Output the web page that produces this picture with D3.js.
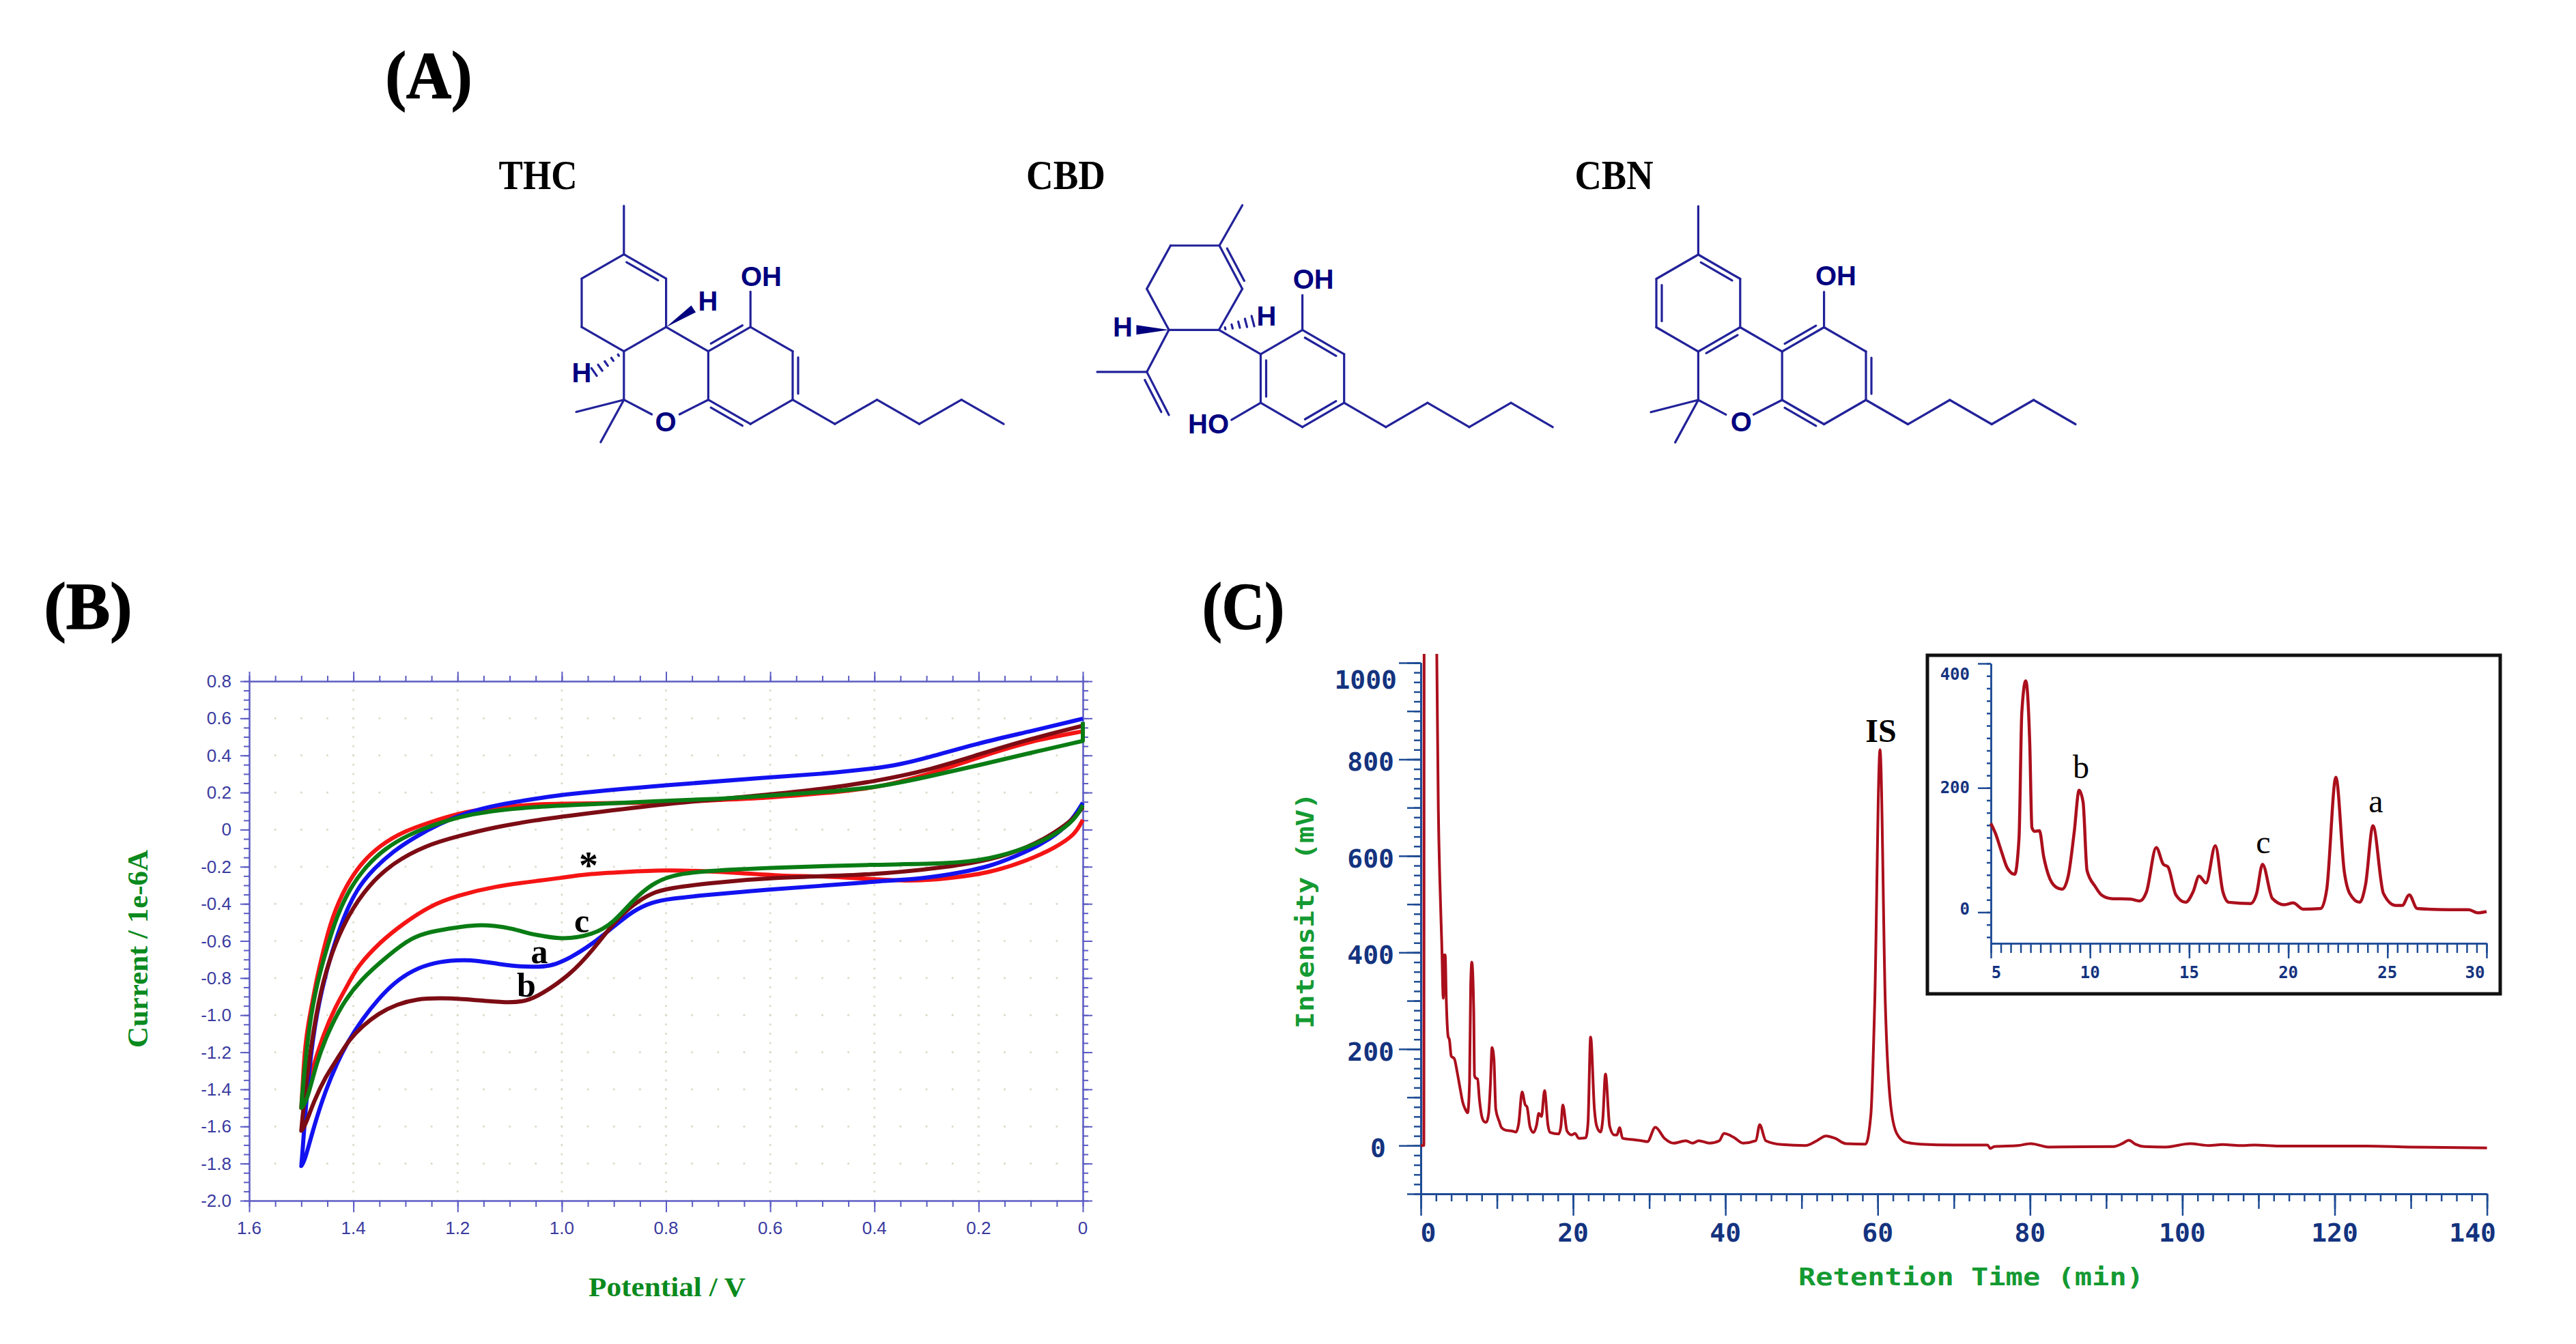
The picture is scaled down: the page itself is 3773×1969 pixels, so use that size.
<!DOCTYPE html>
<html>
<head>
<meta charset="utf-8">
<style>
  html, body { margin: 0; background: #fff; }
  svg { display: block; }
</style>
<script src="https://cdn.jsdelivr.net/npm/d3@7"></script>
</head>
<body>
<svg id="fig" width="3773" height="1969" viewBox="0 0 3773 1969"></svg>
<script>
// cyclic voltammograms: [potential V, current 1e-6 A], forward sweep then return
const redCV = [[0,.53],[.1,.478],[.2,.39],[.3,.294],[.35,.26],[.4,.225],[.5,.195],[.6,.172],[.7,.16],[.8,.145],[1,.14],[1.043,.139],[1.143,.115],[1.2,.087],[1.253,.04],[1.305,-.011],[1.349,-.085],[1.384,-.177],[1.414,-.3],[1.441,-.471],[1.458,-.655],[1.47,-.8],[1.478,-.92],[1.487,-1.05],[1.494,-1.2],[1.498,-1.415],[1.5,-1.5],
  [1.49,-1.4],[1.476,-1.267],[1.458,-1.108],[1.436,-.961],[1.406,-.813],[1.393,-.741],[1.349,-.606],[1.305,-.508],[1.253,-.41],[1.2,-.355],[1.13,-.306],[1.043,-.275],[1,-.26],[.955,-.24],[.88,-.228],[.8,-.218],[.73,-.223],[.655,-.234],[.58,-.25],[.5,-.25],[.43,-.262],[.33,-.28],[.255,-.262],[.18,-.234],[.105,-.166],[.053,-.097],[.015,-.028],[0,.053]];
const blueCV = [[0,.598],[.1,.53],[.2,.467],[.3,.386],[.35,.352],[.4,.329],[.5,.3],[.6,.283],[.8,.24],[1,.19],[1.043,.169],[1.121,.136],[1.182,.093],[1.235,.032],[1.283,-.042],[1.323,-.115],[1.362,-.213],[1.393,-.318],[1.419,-.471],[1.441,-.655],[1.46,-.85],[1.478,-1.108],[1.491,-1.476],[1.498,-1.75],[1.5,-1.813],
  [1.493,-1.783],[1.476,-1.6],[1.453,-1.402],[1.431,-1.255],[1.41,-1.139],[1.383,-1.022],[1.352,-.912],[1.322,-.826],[1.287,-.758],[1.244,-.715],[1.2,-.703],[1.165,-.704],[1.121,-.725],[1.077,-.74],[1.043,-.739],[1.02,-.735],[.985,-.694],[.94,-.614],[.9,-.522],[.865,-.441],[.827,-.39],[.79,-.372],[.73,-.354],[.6,-.322],[.5,-.303],[.4,-.28],[.3,-.262],[.24,-.234],[.18,-.2],[.128,-.143],[.075,-.074],[.03,.018],[.0075,.11],[0,.145]];
const brownCV = [[0,.56],[.1,.49],[.2,.405],[.3,.317],[.4,.26],[.5,.218],[.6,.19],[.7,.163],[.8,.14],[1,.07],[1.043,.054],[1.13,.013],[1.2,-.036],[1.261,-.085],[1.323,-.177],[1.371,-.299],[1.41,-.459],[1.441,-.655],[1.463,-.863],[1.482,-1.169],[1.497,-1.525],[1.5,-1.623],
  [1.493,-1.6],[1.476,-1.464],[1.453,-1.329],[1.431,-1.237],[1.41,-1.139],[1.383,-1.059],[1.352,-.991],[1.317,-.942],[1.278,-.912],[1.234,-.908],[1.191,-.912],[1.143,-.924],[1.099,-.933],[1.068,-.924],[1.042,-.893],[.985,-.786],[.94,-.648],[.9,-.5],[.865,-.407],[.827,-.338],[.79,-.315],[.73,-.292],[.6,-.257],[.4,-.246],[.255,-.2],[.18,-.166],[.105,-.097],[.053,-.016],[.015,.064],[0,.122]];
const greenCV = [[0,.58],[0,.478],[.1,.414],[.2,.347],[.3,.283],[.4,.225],[.5,.202],[.6,.184],[.7,.165],[.8,.156],[1,.13],[1.043,.124],[1.143,.1],[1.2,.066],[1.244,.028],[1.296,-.029],[1.34,-.103],[1.375,-.195],[1.406,-.312],[1.432,-.465],[1.454,-.667],[1.469,-.82],[1.485,-1.047],[1.498,-1.415],[1.5,-1.5],
  [1.489,-1.464],[1.471,-1.255],[1.449,-1.096],[1.423,-.948],[1.388,-.813],[1.331,-.672],[1.288,-.582],[1.253,-.55],[1.2,-.526],[1.165,-.514],[1.13,-.517],[1.095,-.533],[1.06,-.563],[1.043,-.569],[1,-.593],[.94,-.568],[.9,-.5],[.865,-.384],[.827,-.292],[.79,-.246],[.73,-.223],[.6,-.205],[.4,-.188],[.255,-.184],[.18,-.16],[.105,-.097],[.053,-.028],[.015,.053],[0,.133]];

const cvTraces = [
  { pts: redCV, color: "#f51414" },
  { pts: blueCV, color: "#1212f0" },
  { pts: brownCV, color: "#7c0c14" },
  { pts: greenCV, color: "#0a7c14" }
];

// full chromatogram: [min, mV]; the solvent front runs off the top of the plot
const chromPts = [[0,0],[.4,0],[.45,1300],[1.9,1300],[2.1,1017],[2.3,700],[2.5,550],[2.75,420],[2.95,305],[3.05,395],[3.2,395],[3.35,300],[3.6,225],[3.75,220],[4,185],[4.4,180],[4.8,150],[5.2,115],[5.5,90],[5.85,75],[6.15,68],[6.4,130],[6.55,330],[6.7,380],[6.95,280],[7.05,145],[7.2,140],[7.45,138],[7.7,95],[7.95,65],[8.3,50],[8.6,48],[8.9,65],[9.15,130],[9.35,203],[9.6,180],[9.85,75],[10.3,50],[10.6,37],[11.1,32],[12,30],[12.5,28],[12.85,45],[13.3,111],[13.7,85],[13.95,80],[14.35,38],[14.8,27],[15.2,42],[15.5,67],[15.85,60],[16.25,114],[16.7,42],[17,27],[18.1,24],[18.4,40],[18.65,84],[19.2,30],[19.8,22],[20.25,25],[20.75,15],[21.65,16],[21.95,45],[22.3,225],[22.8,75],[23.1,40],[23.6,28],[23.9,55],[24.25,148],[24.8,40],[25.4,22],[25.75,22],[26.1,37],[26.5,15],[28,12],[29,10],[29.75,8],[30.8,38],[32,15],[33.2,5],[34.8,10],[35.7,5],[36.5,10],[37.9,5],[39.2,10],[39.8,25],[41.1,17],[42.3,5],[44,10],[44.5,43],[45.3,10],[47.4,2],[50.5,0],[52,10],[53.2,20],[54.4,15],[55.8,4],[58.4,3],[59.1,64],[59.6,292],[60.3,820],[61,292],[61.7,84],[62.5,25],[63.7,7],[65.6,3],[70,1],[74.4,1],[74.8,-6],[75.3,-2],[78.4,0],[80.1,4],[82.4,-3],[91,-2],[92.1,4],[93,11],[93.8,3],[95,-2],[97.8,-3],[101,4],[103.5,0],[105.3,2],[107.5,0],[109.5,1],[112.7,-1],[124.1,-1],[129.8,-3],[140,-5]];

// zoomed part in the inset
const insetPts = [[5,143],[5.24,126],[5.53,98],[5.83,71],[6.2,61],[6.42,120],[6.56,321],[6.76,372],[6.96,272],[7.07,136],[7.2,130],[7.45,131],[7.66,90],[7.9,60],[8.3,40],[8.6,37],[8.9,58],[9.2,128],[9.45,196],[9.65,177],[9.85,67],[10.27,41],[10.57,28],[11.07,22],[12.05,21],[12.5,18],[12.85,33],[13.34,104],[13.7,77],[13.93,73],[14.33,28],[14.82,16],[15.2,33],[15.5,58],[15.85,47],[16.32,107],[16.7,33],[17,16],[18.1,14],[18.4,30],[18.7,77],[19.2,22],[19.8,12],[20.25,15],[20.75,5],[21.64,6],[21.94,37],[22.4,217],[22.83,64],[23.1,30],[23.6,16],[23.9,45],[24.27,139],[24.8,30],[25.4,11],[25.75,11],[26.1,28],[26.5,6],[28.1,4],[29.1,4],[29.55,-1],[30,1]];

// structures on a hexagon lattice: i = half ring widths, j = half bonds
const thcAtoms = { me:[0,-2], c1:[0,0], c2:[1,1], c3:[1,3], c4:[0,4], c5:[-1,3], c6:[-1,1], a1:[2,4], a2:[3,3], a3:[4,4], a4:[4,6], a5:[3,7], a6:[2,6], c7:[0,6], oL:[.66,6.6], oR:[1.32,6.6], m1:[-1.13,6.5], m2:[-.55,7.75], oh:[3,1.54], p1:[5,7], p2:[6,6], p3:[7,7], p4:[8,6], p5:[9,7] };
const thcBonds = ["me-c1","c1-c2","c2-c3","c3-c4","c4-c5","c5-c6","c6-c1","c3-a1","a1-a2","a2-a3","a3-a4","a4-a5","a5-a6","a6-a1","c4-c7","c7-oL","oR-a6","c7-m1","c7-m2","a2-oh","a4-p1","p1-p2","p2-p3","p3-p4","p4-p5"];
const thcDoubles = [["c1","c2",1],["a1","a2",-1],["a3","a4",-1],["a5","a6",-1]];

const cbnAtoms = thcAtoms;
const cbnBonds = thcBonds;
const cbnDoubles = [["c1","c2",1],["c5","c6",1],["c3","c4",-1],["a1","a2",-1],["a3","a4",-1],["a5","a6",-1]];

const cbdAtoms = { a2:[0,0], a1:[-1,1], a3:[1,1], a4:[1,3], a5:[0,4], a6:[-1,3], d:[-2,0], e:[-3.2,0], f:[-3.73,-1.69], g:[-3.16,-3.47], h:[-1.99,-3.47], i:[-1.44,-1.69], me:[-1.44,-5.13], k:[-3.73,1.73], k1:[-4.92,1.73], k2:[-3.2,3.5], oh:[0,-1.43], ho:[-1.7,3.7], p1:[2,4], p2:[3,3], p3:[4,4], p4:[5,3], p5:[6,4] };
const cbdBonds = ["a2-a1","a2-a3","a3-a4","a4-a5","a5-a6","a6-a1","a1-d","d-e","e-f","f-g","g-h","h-i","i-d","h-me","e-k","k-k1","k-k2","a2-oh","a6-ho","a4-p1","p1-p2","p2-p3","p3-p4","p4-p5"];
const cbdDoubles = [["h","i",-1],["k","k2",1],["a2","a3",1],["a1","a6",-1],["a4","a5",1]];

const cvXMajor = d3.range(0, 1.61, .2);
const cvXMinor = d3.range(0, 1.61, .05);
const cvYMajor = d3.range(-2, .81, .2);
const cvYMinor = d3.range(-2, .81, .05);

const svg = d3.select("#fig");
const blueInk = "#00007f";
const bondInk = "#22229a";
const black = "#000";
const serif = "'Liberation Serif', serif";
const sans = "'Liberation Sans', sans-serif";
const mono = "'DejaVu Sans Mono', monospace";

function txt(x, y, s, o = {}) {
  const t = svg.append("text")
    .attr("x", x).attr("y", y)
    .attr("dominant-baseline", o.base || "central")
    .attr("text-anchor", o.anchor || "middle")
    .attr("font-family", o.font || serif)
    .attr("font-size", o.size || 40)
    .attr("font-weight", o.weight || "bold")
    .attr("fill", o.fill || black)
    .text(s);
  if (o.len) t.attr("textLength", o.len).attr("lengthAdjust", "spacingAndGlyphs");
  if (o.rotate) t.attr("transform", `rotate(${o.rotate},${x},${y})`);
  if (o.heavy) t.attr("stroke", o.fill || black).attr("stroke-width", o.heavy);
  return t;
}

// axis = major ticks on top of minor ticks, labels are set separately
function ticks(make, scale, tr, minor, major, lenMin, lenMaj, color, sw) {
  const g = svg.append("g").attr("transform", `translate(${tr})`);
  g.append("g").call(make(scale).tickValues(minor).tickSize(lenMin).tickSizeOuter(0).tickFormat(""));
  g.append("g").call(make(scale).tickValues(major).tickSize(lenMaj).tickSizeOuter(0).tickFormat(""));
  g.selectAll("path,line").attr("stroke", color).attr("stroke-width", sw);
}

/* ---------- (A) ---------- */
const panelStyle = { size: 98, base: "auto", heavy: 1.5 };
txt(628, 143, "(A)", { ...panelStyle, len: 127 });
txt(788, 256, "THC", { size: 62, len: 115 });
txt(1561, 256, "CBD", { size: 62, len: 116 });
txt(2364, 256, "CBN", { size: 62, len: 115 });

function molecule(atoms, bonds, doubles, ox, oy, ix, jy) {
  const sx = d3.scaleLinear().domain([0, 1]).range([ox, ox + ix]);
  const sy = d3.scaleLinear().domain([0, 1]).range([oy, oy + jy]);
  const g = svg.append("g").attr("stroke", bondInk).attr("stroke-width", 3.2).attr("stroke-linecap", "round");
  bonds.forEach(b => {
    const [p, q] = b.split("-").map(k => atoms[k]);
    g.append("line").attr("x1", sx(p[0])).attr("y1", sy(p[1])).attr("x2", sx(q[0])).attr("y2", sy(q[1]));
  });
  doubles.forEach(([a, b, side]) => {
    const x1 = sx(atoms[a][0]), y1 = sy(atoms[a][1]), x2 = sx(atoms[b][0]), y2 = sy(atoms[b][1]);
    const L = Math.hypot(x2 - x1, y2 - y1), ux = (x2 - x1) / L, uy = (y2 - y1) / L;
    const off = 8 * side, cut = 9;
    g.append("line")
      .attr("x1", x1 + ux * cut - uy * off).attr("y1", y1 + uy * cut + ux * off)
      .attr("x2", x2 - ux * cut - uy * off).attr("y2", y2 - uy * cut + ux * off);
  });
  return { sx, sy, g };
}

function wedge(m, from, to, w) {
  const x1 = m.sx(from[0]), y1 = m.sy(from[1]), x2 = m.sx(to[0]), y2 = m.sy(to[1]);
  const L = Math.hypot(x2 - x1, y2 - y1), nx = -(y2 - y1) / L, ny = (x2 - x1) / L;
  m.g.append("polygon")
    .attr("points", [[x1, y1], [x2 + nx * w, y2 + ny * w], [x2 - nx * w, y2 - ny * w]].join(" "))
    .attr("fill", blueInk).attr("stroke", "none");
}

function hashed(m, from, to, w) {
  const x1 = m.sx(from[0]), y1 = m.sy(from[1]), x2 = m.sx(to[0]), y2 = m.sy(to[1]);
  const L = Math.hypot(x2 - x1, y2 - y1), nx = -(y2 - y1) / L, ny = (x2 - x1) / L;
  d3.range(.18, 1.01, .2).forEach(f => {
    const cx = x1 + (x2 - x1) * f, cy = y1 + (y2 - y1) * f, h = w * f;
    m.g.append("line").attr("x1", cx + nx * h).attr("y1", cy + ny * h).attr("x2", cx - nx * h).attr("y2", cy - ny * h);
  });
}

const atomStyle = { font: sans, size: 40, fill: blueInk };

const thc = molecule(thcAtoms, thcBonds, thcDoubles, 913.8, 372.7, 61.8, 35.5);
wedge(thc, [1, 3], [1.65, 2.25], 6);
hashed(thc, [0, 4], [-.72, 4.87], 7);
txt(1115, 404.5, "OH", atomStyle);
txt(1037, 441, "H", atomStyle);
txt(852, 546, "H", atomStyle);
txt(975, 618, "O", atomStyle);

const cbd = molecule(cbdAtoms, cbdBonds, cbdDoubles, 1907.6, 483.3, 61.1, 35.6);
wedge(cbd, [-3.2, 0], [-3.98, 0], 7);
hashed(cbd, [-2, 0], [-1.17, -.37], 8);
txt(1923.7, 409, "OH", atomStyle);
txt(1855, 463, "H", atomStyle);
txt(1644.5, 479, "H", atomStyle);
txt(1770, 621, "HO", atomStyle);

const cbn = molecule(cbnAtoms, cbnBonds, cbnDoubles, 2487.4, 373, 61.4, 35.5);
txt(2689, 404, "OH", atomStyle);
txt(2550.4, 618, "O", atomStyle);

/* ---------- (B) ---------- */
txt(129, 921, "(B)", { ...panelStyle, len: 129 });

const cvX = d3.scaleLinear().domain([1.6, 0]).range([365, 1586]);
const cvY = d3.scaleLinear().domain([-2, .8]).range([1759, 998]);
const cvAxisInk = "#5c5cc4";
const cvLabelInk = "#3b3b9f";

// dotted grid
const gridG = svg.append("g").attr("fill", "#dcdccb");
d3.cross(cvXMinor, cvYMajor).concat(d3.cross(cvXMajor, cvYMinor)).forEach(([e, i]) => {
  gridG.append("circle").attr("cx", cvX(e)).attr("cy", cvY(i)).attr("r", 1.6);
});

ticks(d3.axisLeft, cvY, "365,0", cvYMinor, cvYMajor, 8, 13, cvAxisInk, 2);
ticks(d3.axisRight, cvY, "1586,0", cvYMinor, cvYMajor, 8, 14, cvAxisInk, 2);
ticks(d3.axisTop, cvX, "0,998", cvXMinor, cvXMajor, 8, 14, cvAxisInk, 2);
ticks(d3.axisBottom, cvX, "0,1759", cvXMinor, cvXMajor, 9, 17, cvAxisInk, 2);

const cvLabel = { font: sans, size: 26, weight: "normal", fill: cvLabelInk };
cvYMajor.forEach(v => {
  const r = Math.round(v * 10) / 10;
  txt(339, cvY(r), r === 0 ? "0" : r.toFixed(1), { ...cvLabel, anchor: "end" });
});
cvXMajor.forEach(v => {
  const r = Math.round(v * 10) / 10;
  txt(cvX(r), 1799, r === 0 ? "0" : r.toFixed(1), cvLabel);
});

// basis spline irons out reading noise; the sweep turning points are repeated so it still reaches them
const sharpen = pts => pts.flatMap(p => (p[0] === 0 || p[0] === 1.5) ? [p, p, p] : [p]);
const cvLine = d3.line().x(d => cvX(d[0])).y(d => cvY(d[1])).curve(d3.curveBasis);
cvTraces.forEach(t => {
  svg.append("path").attr("d", cvLine(sharpen(t.pts))).attr("fill", "none")
    .attr("stroke", t.color).attr("stroke-width", 6).attr("stroke-linejoin", "round");
});

txt(790, 1394, "a", { size: 50 });
txt(771, 1443, "b", { size: 50 });
txt(852, 1349, "c", { size: 50 });
txt(862, 1268, "*", { size: 56 });

txt(202, 1390, "Current / 1e-6A", { size: 42, fill: "#0a8a1e", rotate: -90, len: 290 });
txt(977, 1885, "Potential / V", { size: 40, fill: "#0a8a1e", len: 230 });

/* ---------- (C) ---------- */
txt(1821, 921, "(C)", { ...panelStyle, len: 120 });

const hplcInk = "#1d4b94";
const hplcLabelInk = "#14337f";
const traceInk = "#ab0f1c";
const titleGreen = "#149a32";

const tX = d3.scaleLinear().domain([0, 140]).range([2081, 3642.6]);
const mvY = d3.scaleLinear().domain([-100, 1000]).range([1749, 971]);

ticks(d3.axisLeft, mvY, "2081,0", d3.range(-100, 1001, 20), d3.range(-100, 1001, 100), 10, 20, hplcInk, 2.5);
ticks(d3.axisLeft, mvY, "2081,0", [], d3.range(0, 1001, 200), 0, 32, hplcInk, 2.5);
ticks(d3.axisBottom, tX, "0,1749", d3.range(0, 141, 2), d3.range(0, 141, 10), 11, 22, hplcInk, 2.5);
ticks(d3.axisBottom, tX, "0,1749", [], d3.range(0, 141, 20), 0, 32, hplcInk, 2.5);

const hplcLabel = { font: mono, size: 38, fill: hplcLabelInk };
const xShift = { 0: 11, 140: -21 };
d3.range(0, 141, 20).forEach(v => txt(tX(v) + (xShift[v] || 0), 1806, v, hplcLabel));
d3.range(0, 1001, 200).forEach(v => {
  const dy = v === 1000 ? 25 : 4;
  const xr = v === 1000 ? 2046 : v === 0 ? 2030 : 2042;
  txt(xr, mvY(v) + dy, v, { ...hplcLabel, anchor: "end" });
});

svg.append("clipPath").attr("id", "chromClip").append("rect")
  .attr("x", tX(0) - 5).attr("y", 958).attr("width", tX(140) - tX(0) + 10).attr("height", mvY(-100) - 958);

const chromLine = d3.line().x(d => tX(d[0])).y(d => mvY(d[1])).curve(d3.curveMonotoneX);
svg.append("path").attr("d", chromLine(chromPts)).attr("fill", "none")
  .attr("clip-path", "url(#chromClip)")
  .attr("stroke", traceInk).attr("stroke-width", 4).attr("stroke-linejoin", "round");

txt(2755, 1070, "IS", { size: 48 });
txt(1911, 1334, "Intensity (mV)", { font: mono, size: 36, fill: titleGreen, rotate: -90, len: 346 });
txt(2887, 1870, "Retention Time (min)", { font: mono, size: 36, fill: titleGreen, len: 506 });

/* inset */
svg.append("rect").attr("x", 2823).attr("y", 960).attr("width", 839).attr("height", 496)
  .attr("fill", "#fff").attr("stroke", "#111").attr("stroke-width", 5);

const inX = d3.scaleLinear().domain([5, 30]).range([2916, 3642]);
const inY = d3.scaleLinear().domain([-50, 400]).range([1382, 972]);

ticks(d3.axisLeft, inY, "2916,0", d3.range(-40, 401, 20), [0, 200, 400], 6, 19, hplcInk, 2.5);
ticks(d3.axisBottom, inX, "0,1382", d3.range(5, 30.01, .5), d3.range(5, 31, 5), 14, 22, hplcInk, 2.5);

const inLabel = { font: mono, size: 24, fill: hplcLabelInk };
const inShift = { 5: 8, 30: -17 };
d3.range(5, 31, 5).forEach(v => txt(inX(v) + (inShift[v] || 0), 1425, v, inLabel));
[[400, 16], [200, 0], [0, -4]].forEach(([v, dy]) => txt(2885, inY(v) + dy, v, { ...inLabel, anchor: "end" }));

const inLine = d3.line().x(d => inX(d[0])).y(d => inY(d[1])).curve(d3.curveMonotoneX);
svg.append("path").attr("d", inLine(insetPts)).attr("fill", "none")
  .attr("stroke", traceInk).attr("stroke-width", 4.5).attr("stroke-linejoin", "round");

txt(3048, 1123, "b", { size: 48, weight: "normal" });
txt(3315, 1233, "c", { size: 48, weight: "normal" });
txt(3480, 1173, "a", { size: 48, weight: "normal" });
</script>
</body>
</html>
